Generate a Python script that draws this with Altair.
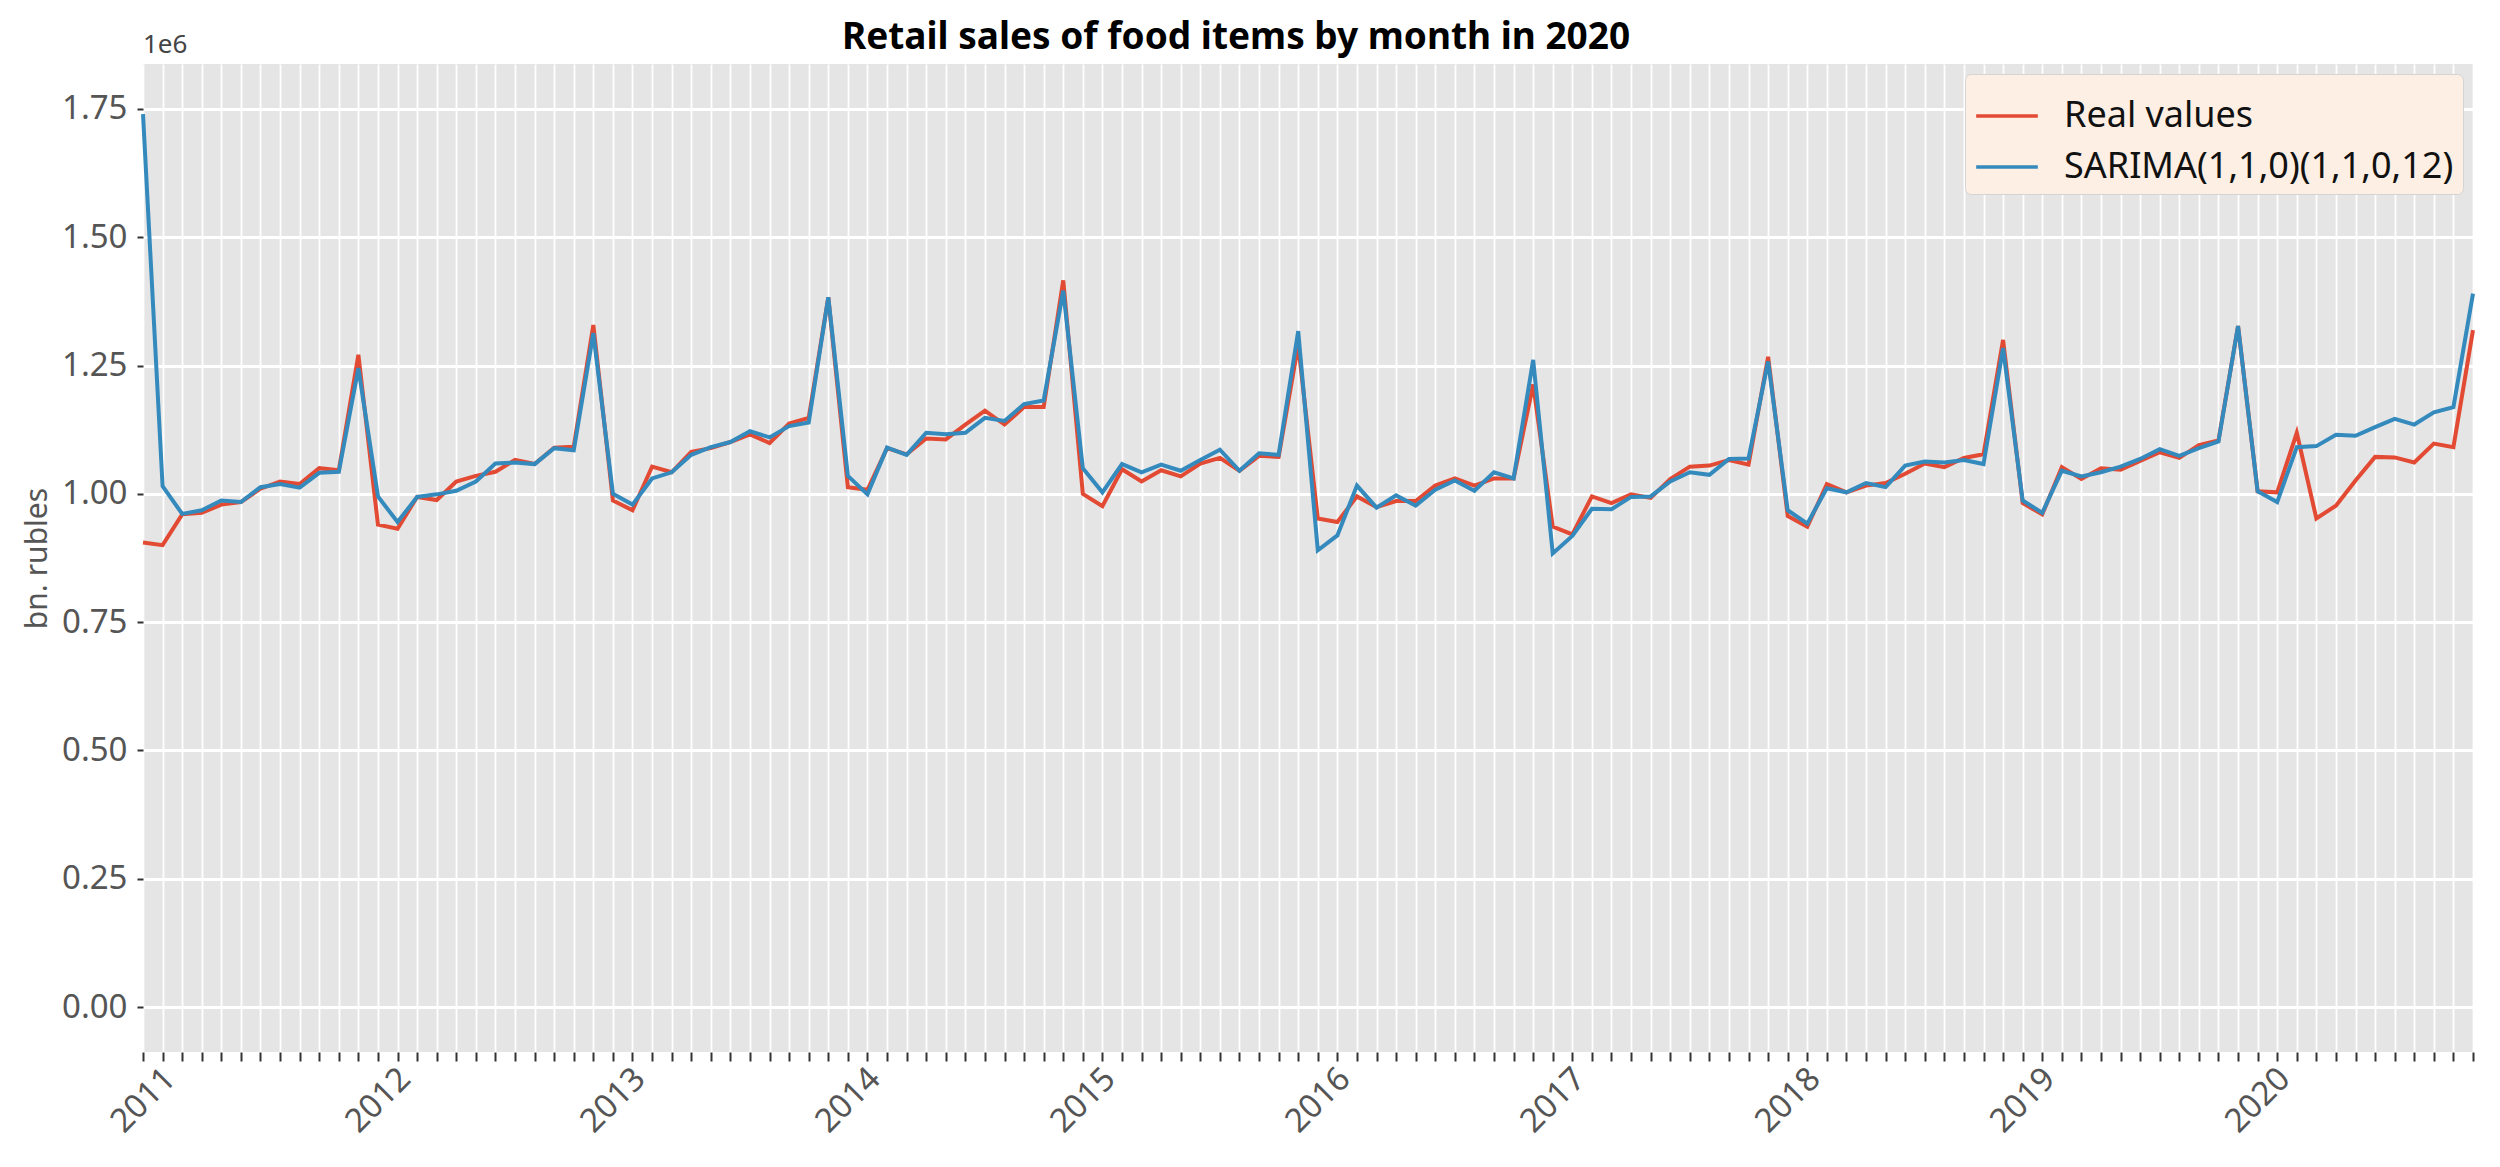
import altair as alt
import pandas as pd

# ---- data (values in units of 1e6, i.e. bn. rubles) ----
months = [f"{y}-{m:02d}" for y in range(2011, 2021) for m in range(1, 13)]

real_values = [
    0.905, 0.900, 0.960, 0.963, 0.979, 0.984, 1.010, 1.024, 1.019, 1.050, 1.046, 1.271,
    0.940, 0.932, 0.994, 0.988, 1.024, 1.035, 1.043, 1.066, 1.058, 1.090, 1.092, 1.329,
    0.987, 0.968, 1.053, 1.042, 1.082, 1.089, 1.101, 1.116, 1.099, 1.137, 1.148, 1.383,
    1.013, 1.008, 1.089, 1.077, 1.108, 1.106, 1.135, 1.162, 1.135, 1.169, 1.169, 1.416,
    1.000, 0.976, 1.048, 1.024, 1.046, 1.034, 1.059, 1.070, 1.045, 1.074, 1.072, 1.290,
    0.952, 0.945, 0.995, 0.974, 0.986, 0.986, 1.016, 1.030, 1.016, 1.030, 1.030, 1.213,
    0.936, 0.921, 0.995, 0.982, 0.999, 0.992, 1.029, 1.053, 1.055, 1.066, 1.057, 1.267,
    0.957, 0.936, 1.019, 1.003, 1.016, 1.021, 1.039, 1.059, 1.052, 1.070, 1.077, 1.300,
    0.982, 0.960, 1.052, 1.029, 1.050, 1.047, 1.064, 1.081, 1.070, 1.095, 1.104, 1.327,
    1.005, 1.003, 1.119, 0.952, 0.977, 1.026, 1.072, 1.071, 1.061, 1.098, 1.091, 1.319,
]

sarima_values = [
    1.740, 1.015, 0.961, 0.968, 0.987, 0.984, 1.013, 1.019, 1.012, 1.041, 1.043, 1.245,
    0.995, 0.945, 0.994, 0.999, 1.006, 1.024, 1.059, 1.061, 1.058, 1.089, 1.085, 1.313,
    1.000, 0.979, 1.030, 1.042, 1.076, 1.091, 1.101, 1.122, 1.110, 1.132, 1.139, 1.383,
    1.035, 0.999, 1.090, 1.076, 1.119, 1.116, 1.119, 1.148, 1.142, 1.175, 1.182, 1.396,
    1.050, 1.003, 1.058, 1.042, 1.057, 1.045, 1.066, 1.086, 1.045, 1.079, 1.076, 1.317,
    0.890, 0.919, 1.016, 0.973, 0.997, 0.977, 1.008, 1.026, 1.006, 1.042, 1.030, 1.261,
    0.884, 0.918, 0.971, 0.970, 0.994, 0.995, 1.024, 1.042, 1.037, 1.068, 1.069, 1.258,
    0.968, 0.942, 1.011, 1.003, 1.021, 1.013, 1.055, 1.063, 1.061, 1.066, 1.058, 1.284,
    0.987, 0.963, 1.045, 1.034, 1.042, 1.053, 1.068, 1.087, 1.074, 1.089, 1.102, 1.327,
    1.005, 0.984, 1.091, 1.093, 1.115, 1.113, 1.130, 1.146, 1.135, 1.159, 1.169, 1.390,
]

series_names = ["Real values", "SARIMA(1,1,0)(1,1,0,12)"]
series_colors = ["#E24A33", "#348ABD"]
y_ticks = [0.0, 0.25, 0.5, 0.75, 1.0, 1.25, 1.5, 1.75]
first_year = 2011

rows = []
for name, vals in zip(series_names, [real_values, sarima_values]):
    for i, (m, v) in enumerate(zip(months, vals)):
        rows.append({"t": i, "month": m, "value": v, "series": name})
df = pd.DataFrame(rows)

FONT = "Noto Sans"
n = len(months)

x_enc = alt.X(
    "t:Q",
    scale=alt.Scale(domain=[0, n - 1], nice=False, zero=False),
    axis=alt.Axis(
        values=list(range(n)),
        labelExpr=f"datum.value % 12 === 0 ? '' + ({first_year} + datum.value / 12) : ''",
        labelAngle=-45,
        labelAlign="center",
        labelBaseline="middle",
        labelPadding=39,
        labelOverlap=False,
        labelFlush=False,
        labelBound=False,
        tickSize=9,
        tickWidth=2,
        tickColor="#333333",
        gridColor="white",
        gridWidth=1.8,
        domain=False,
        title=None,
    ),
)

y_enc = alt.Y(
    "value:Q",
    scale=alt.Scale(domain=[-0.0875, 1.8375], nice=False, zero=False),
    axis=alt.Axis(
        values=y_ticks,
        format=".2f",
        tickSize=6,
        tickWidth=2,
        tickColor="#333333",
        labelPadding=10,
        gridColor="white",
        gridWidth=2.8,
        domain=False,
        title="bn. rubles",
        titlePadding=9,
    ),
)

color_enc = alt.Color(
    "series:N",
    scale=alt.Scale(domain=series_names, range=series_colors),
    sort=series_names,
    legend=alt.Legend(
        title=None,
        orient="top-right",
        offset=10,
        fillColor="#FDEFE4",
        strokeColor="#D4D4D4",
        cornerRadius=6,
        padding=9,
        labelFontSize=36,
        labelFont=FONT,
        labelColor="#111111",
        labelLimit=900,
        symbolType="stroke",
        symbolStrokeWidth=3.5,
        symbolSize=3800,
        labelOffset=24,
        rowPadding=-16,
    ),
)

base = alt.Chart(df)
real_line = base.transform_filter(alt.datum.series == series_names[0]).mark_line(strokeWidth=4).encode(
    x=x_enc, y=y_enc, color=color_enc
)
sarima_line = base.transform_filter(alt.datum.series == series_names[1]).mark_line(strokeWidth=4).encode(
    x=x_enc, y=y_enc, color=color_enc
)

offset_note = alt.Chart(pd.DataFrame({"label": ["1e6"]})).mark_text(
    align="left", baseline="bottom", fontSize=26, font=FONT, color="#444444"
).encode(x=alt.value(0), y=alt.value(-6), text="label:N")

chart = (
    alt.layer(real_line, sarima_line, offset_note)
    .properties(
        width=2330,
        height=988,
        title=alt.TitleParams(
            "Retail sales of food items by month in 2020",
            fontSize=37,
            fontWeight="bold",
            font=FONT,
            color="#000000",
            anchor="middle",
            dx=-72,
            offset=-25,
        ),
        padding={"left": 135, "top": 56, "right": 10, "bottom": 90},
        autosize=alt.AutoSizeParams(type="none"),
    )
    .configure_view(fill="#E5E5E5", stroke=None)
    .configure_axis(
        labelFont=FONT,
        labelFontSize=33,
        labelColor="#555555",
        titleFont=FONT,
        titleFontSize=30,
        titleFontWeight="normal",
        titleColor="#555555",
    )
)

chart.save("out.html", embed_options={"renderer": "svg", "actions": False})
